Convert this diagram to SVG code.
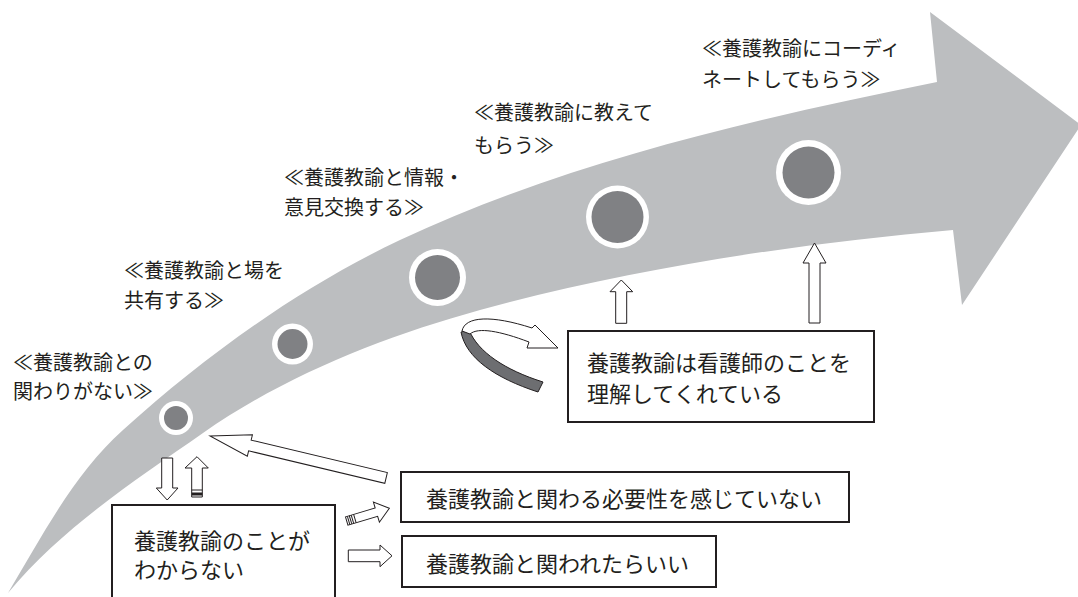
<svg xmlns="http://www.w3.org/2000/svg" width="1078" height="597" viewBox="0 0 1078 597">
<style>
.lbl{font-family:"Noto Sans CJK JP","Noto Sans CJK SC",sans-serif;font-size:20px;fill:#231f20}
.btx{font-family:"Noto Sans CJK JP","Noto Sans CJK SC",sans-serif;font-size:22px;fill:#231f20}
.box{fill:#fff;stroke:#231f20;stroke-width:2}
.ring{fill:#fff}
.dot{fill:#808184}
.blk{fill:#fff;stroke:#231f20;stroke-width:1}
.stripe{stroke:#231f20;stroke-width:1}
</style>
<rect width="1078" height="597" fill="#fff"/>
<g id="band">
<path d="M8,593 C42,536 74,474 123,430 C206,355 299,288 400,240 C569,161 754,119 937,82 L930,12 L1081,125 L962,305 L953,230 C794,244 634,268 480,310 C383,337 286,375 203,433 C134,481 62,528 8,593 Z" fill="#bcbec0"/>
</g>
<g id="stages">
<g id="stage1"><circle class="ring" cx="176" cy="418" r="17"/><circle class="dot" cx="176" cy="418" r="12"/></g>
<g id="stage2"><circle class="ring" cx="292.5" cy="344" r="20.5"/><circle class="dot" cx="292.5" cy="344" r="15"/></g>
<g id="stage3"><circle class="ring" cx="437.5" cy="277.5" r="28.5"/><circle class="dot" cx="437.5" cy="277.5" r="22.5"/></g>
<g id="stage4"><circle class="ring" cx="617.5" cy="217" r="31.5"/><circle class="dot" cx="617.5" cy="217" r="26"/></g>
<g id="stage5"><circle class="ring" cx="808.5" cy="172.5" r="32.5"/><circle class="dot" cx="808.5" cy="172.5" r="26"/></g>
</g>
<g id="labels">
<g id="label1"><text class="lbl" x="13" y="370">≪養護教諭との</text><text class="lbl" x="13" y="399">関わりがない≫</text></g>
<g id="label2"><text class="lbl" x="124" y="278">≪養護教諭と場を</text><text class="lbl" x="124" y="308">共有する≫</text></g>
<g id="label3"><text class="lbl" x="284" y="185">≪養護教諭と情報・</text><text class="lbl" x="284" y="215">意見交換する≫</text></g>
<g id="label4"><text class="lbl" x="474" y="120">≪養護教諭に教えて</text><text class="lbl" x="474" y="153">もらう≫</text></g>
<g id="label5"><text class="lbl" x="702" y="56">≪養護教諭にコーディ</text><text class="lbl" x="702" y="87">ネートしてもらう≫</text></g>
</g>
<g id="connectors">
<!-- curved ribbon arrow -->
<path d="M461,332 C466,358 495,378 538,392 L543,382 C505,370 478,352 469,330 Z" fill="#6d6e71" stroke="#231f20" stroke-width="1"/>
<path class="blk" d="M462,331 C465,316 492,315 532,328 L535,325 L558,348 L527,348 L529,342 C500,331 478,327 470,334 Z"/>
<!-- up arrows to band -->
<path class="blk" d="M615.7,323.3 L615.7,291.7 L610,291.7 L621.3,280 L632.7,291.7 L626.7,291.7 L626.7,323.3 Z"/>
<path class="blk" d="M809,323 L809,263 L803,263 L814.5,243 L826,263 L820,263 L820,323 Z"/>
<!-- long diagonal arrow back to band -->
<path class="blk" transform="translate(210,436) rotate(13.4)" d="M0,0 L41,-11 L41,-5.5 L181,-5.5 L181,5.5 L41,5.5 L41,11 Z"/>
<!-- down arrow -->
<path class="blk" d="M161.7,458 L172.7,458 L172.7,488 L178,488 L167.2,500 L156.3,488 L161.7,488 Z"/>
<!-- up striped arrow -->
<path class="blk" d="M191.7,497 L191.7,468 L185,468 L197,456.7 L208.3,468 L202.3,468 L202.3,497 Z"/>
<line class="stripe" x1="191.7" y1="490" x2="202.3" y2="490"/>
<rect x="191.7" y="492.5" width="10.6" height="3" fill="#231f20"/>
<!-- striped arrow to box 2 -->
<g transform="translate(346.7,521) rotate(-16.6)">
<path class="blk" d="M0,-4.3 L31,-4.3 L31,-10.5 L44.5,0 L31,10.5 L31,4.3 L0,4.3 Z"/>
<line class="stripe" x1="2" y1="-4.3" x2="2" y2="4.3"/>
<line class="stripe" x1="4" y1="-4.3" x2="4" y2="4.3"/>
<line class="stripe" x1="6" y1="-4.3" x2="6" y2="4.3"/>
<line class="stripe" x1="8.5" y1="-4.3" x2="8.5" y2="4.3"/>
</g>
<!-- arrow to box 3 -->
<path class="blk" d="M348.3,550 L380,550 L380,545 L392,555.8 L380,566.7 L380,561.7 L348.3,561.7 Z"/>
</g>
<g id="box1"><rect class="box" x="112" y="505" width="223" height="100"/><text class="btx" x="134" y="548.5">養護教諭のことが</text><text class="btx" x="134" y="578">わからない</text></g>
<g id="box2"><rect class="box" x="401" y="472" width="448" height="50"/><text class="btx" x="426" y="506.5">養護教諭と関わる必要性を感じていない</text></g>
<g id="box3"><rect class="box" x="402" y="536" width="314" height="51"/><text class="btx" x="426" y="571.5">養護教諭と関われたらいい</text></g>
<g id="box4"><rect class="box" x="568" y="331" width="306" height="91"/><text class="btx" x="587" y="370.5">養護教諭は看護師のことを</text><text class="btx" x="587" y="401.5">理解してくれている</text></g>
</svg>
